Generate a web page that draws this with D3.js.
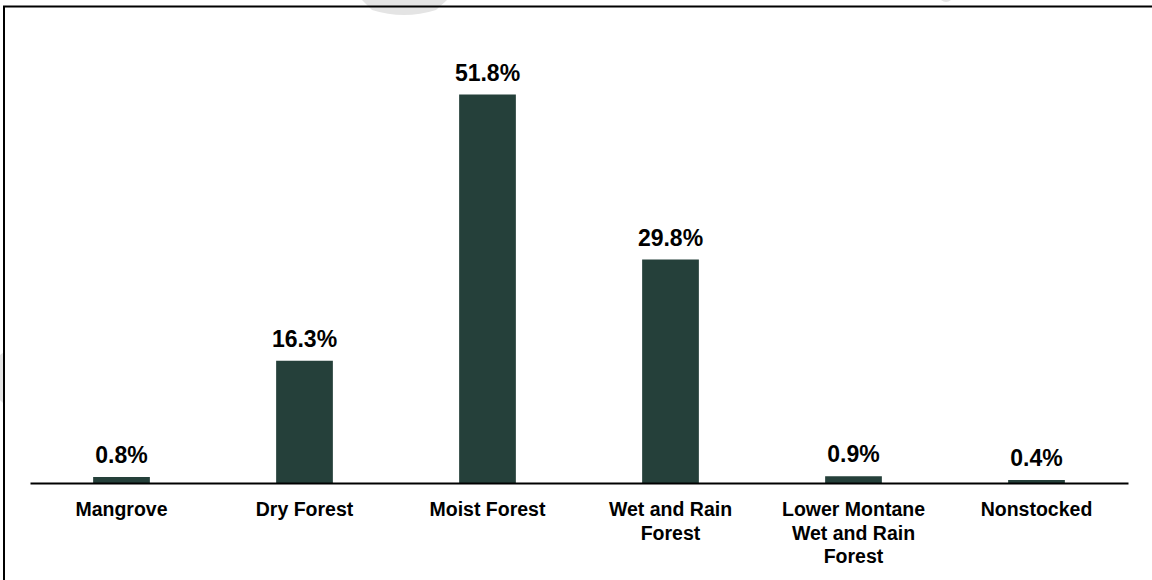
<!DOCTYPE html>
<html>
<head>
<meta charset="utf-8">
<script src="https://cdn.jsdelivr.net/npm/d3@7"></script>
<style>
  html, body { margin: 0; padding: 0; background: #fff; }
  svg { display: block; }
  text { font-family: "Liberation Sans", Arial, sans-serif; font-weight: bold; fill: #000; }
</style>
</head>
<body>
<svg id="chart" width="1152" height="580"></svg>
<script>
// Share of forest area by forest type (%)
const categories = [
  ["Mangrove"],
  ["Dry Forest"],
  ["Moist Forest"],
  ["Wet and Rain", "Forest"],
  ["Lower Montane", "Wet and Rain", "Forest"],
  ["Nonstocked"]
];
const shares = [0.8, 16.3, 51.8, 29.8, 0.9, 0.4];
const shareLabels = ["0.8%", "16.3%", "51.8%", "29.8%", "0.9%", "0.4%"];

const svg = d3.select("#chart");
const W = 1152, H = 580;

// light watermark fragments at the edges
svg.append("path")
  .attr("d", "M362,0 L447,0 L436,10 Q404,20 372,10 Z")
  .attr("fill", "#e4e4e4");
svg.append("path")
  .attr("d", "M941,0 L951,0 Q946,4 941,0 Z")
  .attr("fill", "#e4e4e4");
svg.append("path")
  .attr("d", "M0,355 L4,352 L4,404 L0,400 Z")
  .attr("fill", "#e4e4e4");

// frame (top and left edges)
svg.append("path")
  .attr("d", `M4,${H} L4,6.5 L${W},6.5`)
  .attr("fill", "none")
  .attr("stroke", "#000")
  .attr("stroke-width", 2);

const keys = categories.map((c, i) => i);

const x = d3.scaleBand()
  .domain(keys)
  .range([30, 1128])
  .paddingInner(0.69)
  .paddingOuter(0.345);

const y = d3.scaleLinear()
  .domain([0, 60])
  .range([483, 33]);

// bars
svg.append("g")
  .selectAll("rect")
  .data(shares)
  .join("rect")
  .attr("x", (d, i) => x(i))
  .attr("y", d => y(d))
  .attr("width", x.bandwidth())
  .attr("height", d => y(0) - y(d))
  .attr("fill", "#25403a");

// value labels
svg.append("g")
  .selectAll("text")
  .data(shares)
  .join("text")
  .attr("x", (d, i) => x(i) + x.bandwidth() / 2)
  .attr("y", d => y(d) - 14)
  .attr("text-anchor", "middle")
  .style("font-size", "23px")
  .text((d, i) => shareLabels[i]);

// category axis
const axis = d3.axisBottom(x).tickSize(0).tickFormat("");
const axisG = svg.append("g")
  .attr("transform", `translate(0,${y(0)})`)
  .call(axis);
axisG.select(".domain")
  .attr("stroke", "#000")
  .attr("stroke-width", 2);

const lbl = svg.append("g");
categories.forEach((lines, i) => {
  const t = lbl.append("text")
    .attr("x", x(i) + x.bandwidth() / 2)
    .attr("y", 516)
    .attr("text-anchor", "middle")
    .style("font-size", "19.5px");
  lines.forEach((ln, j) => {
    t.append("tspan")
      .attr("x", x(i) + x.bandwidth() / 2)
      .attr("dy", j === 0 ? 0 : 23.5)
      .text(ln);
  });
});
</script>
</body>
</html>
